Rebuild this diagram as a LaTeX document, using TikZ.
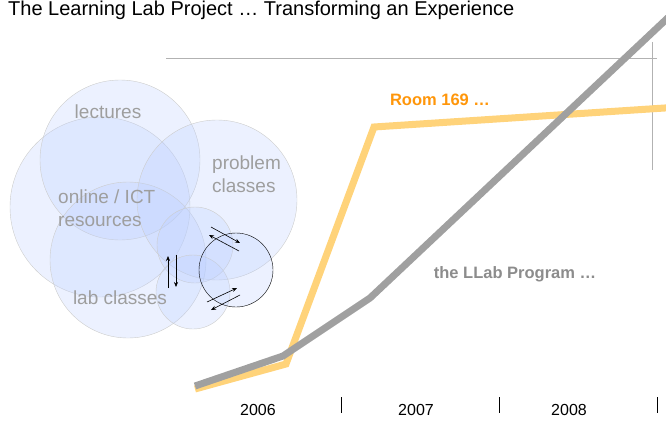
\documentclass[tikz,border=0pt]{standalone}
\usepackage{fontspec}
\setmainfont{Liberation Sans}
\usetikzlibrary{arrows.meta, positioning}
\definecolor{roomyellow}{RGB}{255,211,122}
\definecolor{roomorange}{RGB}{255,150,10}
\definecolor{llabgray}{RGB}{160,160,160}
\definecolor{bubblue}{RGB}{185,205,255}
\tikzset{
  bubble/.style={circle, draw=black!20, fill=bubblue, fill opacity=0.27, inner sep=0pt},
  hotbubble/.style={bubble, draw=black, thin},
  bubtext/.style={font=\fontsize{19}{23}\selectfont, text=black!38, align=left, inner sep=0pt},
  trend/.style={line width=7pt, line join=miter},
  flow/.style={-{Stealth[length=5pt, width=4pt]}, semithick},
  yearlbl/.style={font=\fontsize{16}{16}\selectfont, inner sep=0pt},
  tick/.style={draw=black, semithick},
}

\begin{document}
\begin{tikzpicture}[x=1pt, y=-1pt]
  \clip (0,0) rectangle (666,420);

  % Title
  \node[anchor=west, inner sep=0pt, font=\fontsize{20}{20}\selectfont] (title) at (8,10) {The Learning Lab Project \dots\ Transforming an Experience};

  % Frame lines
  \coordinate (hl) at (166,58);
  \coordinate (hr) at (657,58);
  \coordinate (vt) at (652,42);
  \coordinate (vb) at (652,170);
  \draw[black!30] (hl) -- (hr);
  \draw[black!30] (vt) -- (vb);

  % Bubbles
  \node[bubble, minimum size=180pt] (online) at (100,207) {};
  \node[bubble, minimum size=160pt] (lect) at (120,160) {};
  \node[bubble, minimum size=156pt] (lab) at (128,260) {};
  \node[bubble, minimum size=160pt] (prob) at (217,200) {};
  \node[bubble, minimum size=76pt] (smtop) at (195,245) {};
  \node[bubble, minimum size=74pt] (smbot) at (193,292) {};
  \node[hotbubble, minimum size=74pt] (smright) at (236,270) {};

  \node[bubtext] (lectlbl) at (108,112) {lectures};
  \node[bubtext, anchor=west] (onlinelbl) at (58,208) {online / ICT\\resources};
  \node[bubtext, anchor=west] (problbl) at (212,174) {problem\\classes};
  \node[bubtext] (lablbl) at (120,298) {lab classes};

  % Exchange arrows
  \coordinate (a1) at (211,227);
  \coordinate (a2) at (240,243);
  \coordinate (b1) at (239,251);
  \coordinate (b2) at (209,235);
  \coordinate (c1) at (168,288);
  \coordinate (c2) at (168,256);
  \coordinate (d1) at (176,255);
  \coordinate (d2) at (176,287);
  \coordinate (e1) at (207,302);
  \coordinate (e2) at (237,288);
  \coordinate (f1) at (240,295);
  \coordinate (f2) at (211,310);
  \draw[flow] (a1) -- (a2);
  \draw[flow] (b1) -- (b2);
  \draw[flow] (c1) -- (c2);
  \draw[flow] (d1) -- (d2);
  \draw[flow] (e1) -- (e2);
  \draw[flow] (f1) -- (f2);

  % Trend lines
  \coordinate (y0) at (195,389);
  \coordinate (y1) at (286,364);
  \coordinate (y2) at (374,127);
  \coordinate (y3) at (680,107);
  \coordinate (g0) at (195,386);
  \coordinate (g1) at (283,356);
  \coordinate (g2) at (370,298);
  \coordinate (g3) at (690,-3);
  \draw[trend, roomyellow] (y0) -- (y1) -- (y2) -- (y3);
  \draw[trend, llabgray] (g0) -- (g1) -- (g2) -- (g3);

  \node[font=\fontsize{16.5}{16.5}\selectfont\bfseries, text=roomorange] (room) at (440,100) {Room 169 \dots};
  \node[font=\fontsize{16.5}{16.5}\selectfont\bfseries, text=black!45] (llab) at (515,274) {the LLab Program \dots};

  % Year axis
  \foreach \tx/\tn in {341/t1, 499/t2, 657/t3} {
    \coordinate (\tn a) at (\tx,397);
    \coordinate (\tn b) at (\tx,413);
    \draw[tick] (\tn a) -- (\tn b);
  }
  \node[yearlbl] (y2006) at (258,410) {2006};
  \node[yearlbl] (y2007) at (416,410) {2007};
  \node[yearlbl] (y2008) at (569,410) {2008};
\end{tikzpicture}
\end{document}
